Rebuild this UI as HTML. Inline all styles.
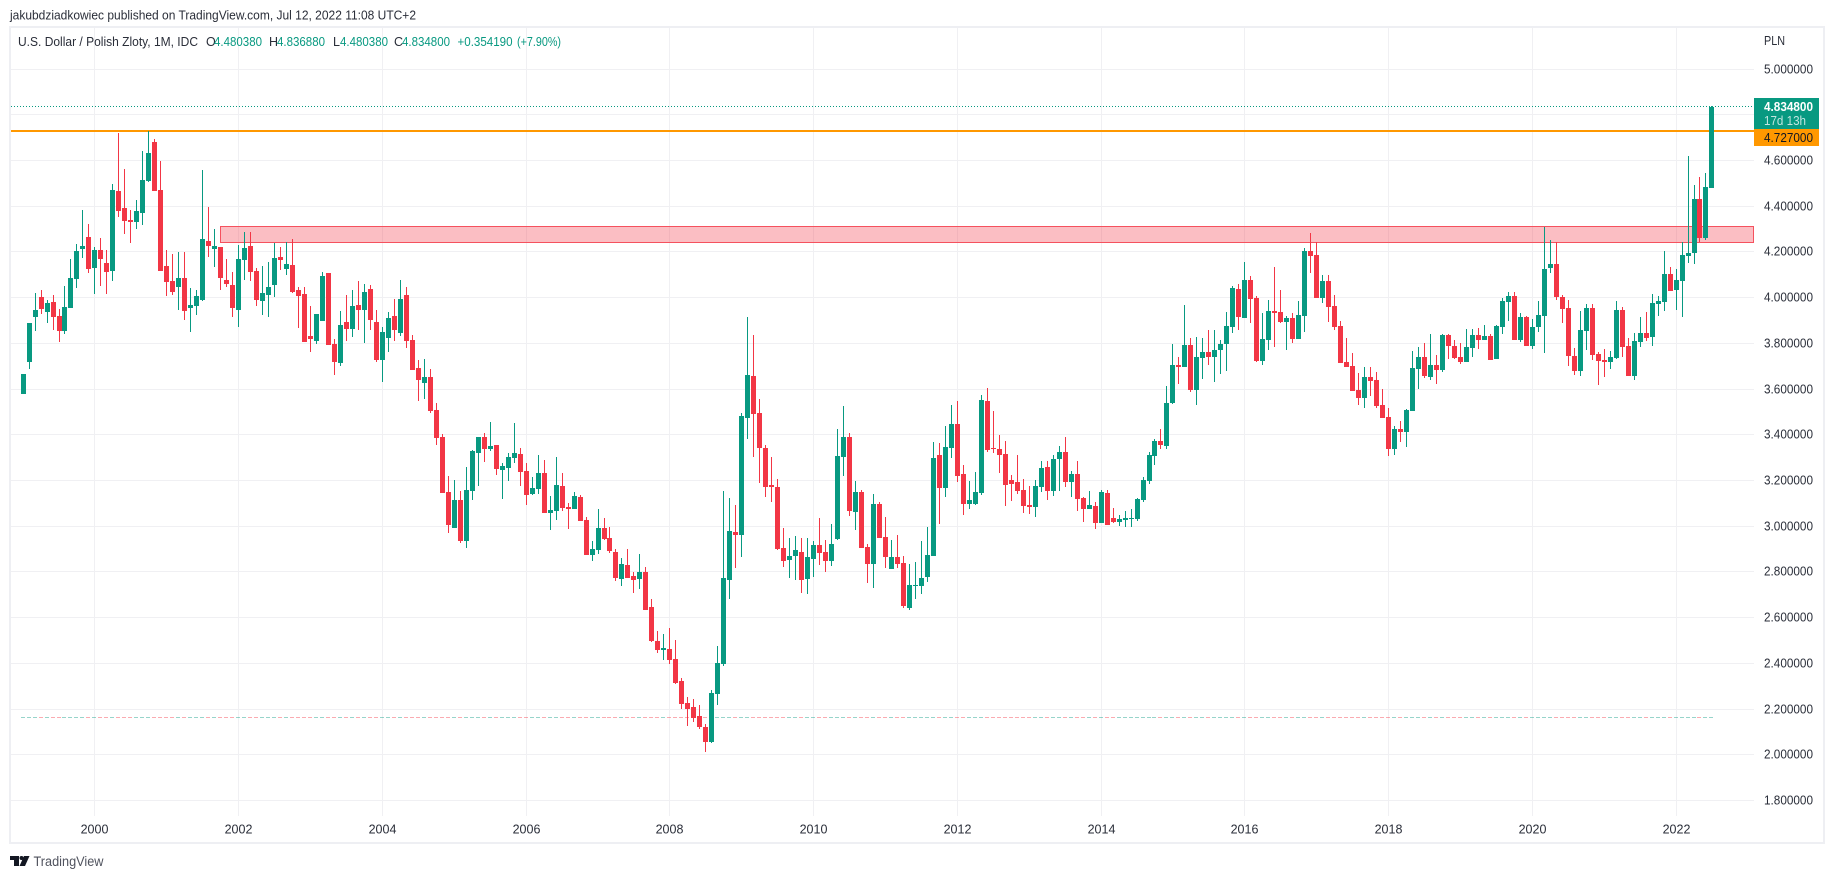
<!DOCTYPE html>
<html lang="en">
<head>
<meta charset="utf-8">
<title>U.S. Dollar / Polish Zloty, 1M</title>
<style>
html,body{margin:0;padding:0;background:#fff;width:1834px;height:879px;overflow:hidden}
svg{display:block;font-family:"Liberation Sans",sans-serif}
text{font-size:12.5px;fill:#2a2e39}
</style>
</head>
<body>
<svg id="chart" width="1834" height="879" viewBox="0 0 1834 879" xmlns="http://www.w3.org/2000/svg">
  <text x="10" y="19.5" textLength="406" lengthAdjust="spacingAndGlyphs">jakubdziadkowiec published on TradingView.com, Jul 12, 2022 11:08 UTC+2</text>
  <rect x="10" y="27" width="1814" height="816" fill="#fff" stroke="#eeeff3" stroke-width="2"/>
  <g id="grid" shape-rendering="crispEdges"></g>
  <g id="drawings" shape-rendering="crispEdges"></g>
  <g id="candles" shape-rendering="crispEdges"></g>
  <g>
    <text x="18" y="46" textLength="180" lengthAdjust="spacingAndGlyphs">U.S. Dollar / Polish Zloty, 1M, IDC</text>
    <text x="206" y="46">O</text>
    <text x="214" y="46" textLength="48" lengthAdjust="spacingAndGlyphs" style="fill:#089981">4.480380</text>
    <text x="269" y="46">H</text>
    <text x="277" y="46" textLength="48" lengthAdjust="spacingAndGlyphs" style="fill:#089981">4.836880</text>
    <text x="333" y="46">L</text>
    <text x="340" y="46" textLength="48" lengthAdjust="spacingAndGlyphs" style="fill:#089981">4.480380</text>
    <text x="394" y="46">C</text>
    <text x="402" y="46" textLength="48" lengthAdjust="spacingAndGlyphs" style="fill:#089981">4.834800</text>
    <text x="457.5" y="46" textLength="55" lengthAdjust="spacingAndGlyphs" style="fill:#089981">+0.354190</text>
    <text x="517" y="46" textLength="44" lengthAdjust="spacingAndGlyphs" style="fill:#089981">(+7.90%)</text>
  </g>
  <text x="1764" y="45" textLength="21" lengthAdjust="spacingAndGlyphs">PLN</text>
  <g id="axes"></g>
  <g shape-rendering="crispEdges">
    <rect x="1754" y="98" width="65" height="31" fill="#089981"/>
    <rect x="1754" y="129" width="65" height="17" fill="#ff9800"/>
  </g>
  <text x="1764" y="111" textLength="49" lengthAdjust="spacingAndGlyphs" style="fill:#fff;font-weight:bold">4.834800</text>
  <text x="1764" y="125" textLength="42" lengthAdjust="spacingAndGlyphs" style="fill:#fff;fill-opacity:.75">17d 13h</text>
  <text x="1764" y="142" textLength="49" lengthAdjust="spacingAndGlyphs" style="fill:#131722">4.727000</text>
  <g>
    <path fill="#131722" d="M10 856H19V866H14V860H10ZM24 856H29.5L25 866H19.5Z"/>
    <circle cx="21.5" cy="858" r="2" fill="#131722"/>
    <text x="33.5" y="866" textLength="70" lengthAdjust="spacingAndGlyphs" style="font-size:13.5px;fill:#50535e">TradingView</text>
  </g>
</svg>
<script>
const firstYear = 1999;
const yearTicks = [2000,2002,2004,2006,2008,2010,2012,2014,2016,2018,2020,2022];
const priceTicks = [5.0,4.8,4.6,4.4,4.2,4.0,3.8,3.6,3.4,3.2,3.0,2.8,2.6,2.4,2.2,2.0,1.8];
const open = [3.578,3.718,3.915,4.003,3.937,3.981,3.920,3.854,3.955,4.082,
4.213,4.266,4.130,4.209,4.152,4.117,4.467,4.393,4.340,4.331,
4.371,4.511,4.682,4.471,4.139,4.073,4.047,4.086,3.955,3.963,
3.990,4.248,4.213,4.222,4.077,4.055,3.946,4.165,4.226,4.117,
3.985,4.012,4.055,4.178,4.125,4.143,4.033,4.016,3.832,3.810,
3.898,4.108,3.797,3.714,3.893,3.863,3.968,3.946,4.038,3.893,
3.727,3.823,3.920,3.845,4.012,3.814,3.692,3.626,3.652,3.508,
3.390,3.149,2.991,3.114,2.934,3.153,3.320,3.390,3.337,3.355,
3.245,3.254,3.298,3.315,3.241,3.140,3.162,3.232,3.057,3.066,
3.175,3.083,3.074,3.127,3.026,2.873,2.895,2.991,2.947,2.886,
2.768,2.829,2.781,2.768,2.798,2.645,2.496,2.457,2.461,2.417,
2.321,2.225,2.207,2.168,2.119,2.054,2.264,2.395,2.763,2.974,
2.960,3.473,3.657,3.495,3.341,3.179,3.171,2.903,2.851,2.868,
2.886,2.768,2.855,2.917,2.886,2.846,2.943,3.302,3.390,3.061,
3.149,2.908,2.833,3.096,2.952,2.811,2.864,2.838,2.641,2.737,
2.737,2.776,2.868,3.311,3.166,3.341,3.447,3.228,3.096,3.096,
3.144,3.547,3.341,3.337,3.315,3.201,3.192,3.158,3.092,3.083,
3.171,3.258,3.153,3.293,3.324,3.192,3.228,3.122,3.074,3.087,
3.013,3.144,3.035,3.017,3.026,3.030,3.030,3.114,3.197,3.306,
3.372,3.350,3.539,3.705,3.696,3.793,3.595,3.736,3.762,3.740,
3.771,3.797,3.871,4.038,3.911,4.077,3.998,3.723,3.814,3.941,
3.937,3.893,3.911,3.819,3.920,4.204,4.187,3.998,4.073,3.963,
3.876,3.718,3.701,3.595,3.560,3.652,3.639,3.530,3.477,3.337,
3.425,3.412,3.503,3.688,3.740,3.652,3.705,3.683,3.836,3.788,
3.740,3.718,3.779,3.836,3.814,3.832,3.731,3.871,3.981,4.007,
3.814,3.915,3.788,3.871,3.920,4.130,4.147,4.003,3.955,3.744,
3.679,3.854,3.955,3.753,3.727,3.718,3.736,3.946,3.788,3.657,
3.806,3.845,3.828,3.972,3.981,4.104,4.033,4.073,4.182,4.195,
4.432,4.261,4.48038];
const high = [3.666,3.889,4.019,4.033,3.990,4.012,3.950,4.051,4.169,4.235,
4.384,4.323,4.222,4.261,4.209,4.498,4.721,4.563,4.384,4.428,
4.642,4.730,4.695,4.598,4.209,4.191,4.200,4.200,4.042,4.033,
4.559,4.397,4.301,4.222,4.169,4.112,4.231,4.288,4.288,4.130,
4.139,4.156,4.239,4.222,4.244,4.257,4.047,4.047,3.963,3.928,
4.112,4.108,3.819,3.941,4.012,4.033,4.073,4.060,4.055,3.946,
3.871,3.937,3.994,4.077,4.047,3.836,3.727,3.731,3.687,3.539,
3.403,3.219,3.201,3.153,3.258,3.333,3.390,3.407,3.455,3.355,
3.276,3.320,3.451,3.341,3.276,3.214,3.311,3.289,3.131,3.302,
3.232,3.101,3.149,3.136,3.039,2.934,3.074,3.035,2.995,2.899,
2.860,2.899,2.798,2.877,2.820,2.680,2.540,2.527,2.553,2.501,
2.334,2.251,2.242,2.216,2.133,2.282,2.474,3.153,3.122,3.092,
3.495,3.915,3.836,3.556,3.355,3.302,3.206,2.991,2.947,2.956,
2.947,2.947,2.934,3.035,2.939,3.009,3.425,3.525,3.407,3.197,
3.158,2.921,3.140,3.105,3.039,2.939,2.960,2.868,2.833,2.842,
2.934,2.995,3.368,3.363,3.438,3.530,3.547,3.267,3.197,3.236,
3.574,3.604,3.503,3.398,3.372,3.223,3.311,3.206,3.175,3.201,
3.285,3.285,3.311,3.350,3.390,3.241,3.285,3.127,3.153,3.105,
3.158,3.158,3.079,3.048,3.066,3.074,3.122,3.214,3.324,3.381,
3.425,3.613,3.797,3.740,3.968,3.823,3.828,3.823,3.858,3.858,
3.814,3.937,4.051,4.060,4.156,4.095,4.007,3.933,3.990,4.134,
4.033,3.920,3.933,3.985,4.217,4.283,4.244,4.099,4.099,4.012,
3.898,3.823,3.758,3.670,3.696,3.696,3.674,3.600,3.517,3.438,
3.460,3.512,3.766,3.784,3.801,3.841,3.749,3.841,3.841,3.814,
3.801,3.863,3.863,3.867,3.880,3.841,3.880,3.998,4.025,4.025,
3.933,3.920,3.907,3.985,4.309,4.253,4.244,4.012,3.990,3.779,
3.941,3.972,3.972,3.762,3.775,3.766,3.985,3.959,3.823,3.845,
3.915,3.937,4.016,4.007,4.204,4.134,4.125,4.244,4.620,4.493,
4.529,4.546,4.83688];
const low = [3.578,3.687,3.854,3.928,3.889,3.858,3.806,3.841,3.955,4.042,
4.174,4.108,4.016,4.051,4.016,4.073,4.353,4.279,4.239,4.301,
4.318,4.507,4.467,4.117,4.007,4.012,3.946,3.902,3.850,3.924,
3.985,4.178,4.134,4.033,4.047,3.915,3.871,4.077,4.073,3.963,
3.924,3.915,4.003,4.121,4.099,4.020,3.867,3.806,3.762,3.797,
3.898,3.793,3.661,3.701,3.810,3.828,3.858,3.801,3.858,3.718,
3.631,3.762,3.810,3.832,3.779,3.683,3.547,3.556,3.495,3.354,
3.144,2.969,2.991,2.925,2.903,3.114,3.175,3.280,3.328,3.223,
3.118,3.197,3.276,3.175,3.092,3.136,3.140,3.057,2.982,3.026,
3.066,2.987,3.074,3.022,2.873,2.846,2.877,2.939,2.882,2.759,
2.737,2.772,2.706,2.724,2.632,2.492,2.444,2.413,2.395,2.308,
2.198,2.124,2.141,2.111,2.010,2.049,2.216,2.387,2.680,2.816,
2.864,3.381,3.302,3.188,3.127,3.105,2.895,2.820,2.772,2.763,
2.706,2.702,2.776,2.829,2.798,2.825,2.939,3.219,3.044,2.982,
2.903,2.750,2.728,2.947,2.816,2.811,2.816,2.641,2.632,2.680,
2.702,2.755,2.868,3.009,3.127,3.298,3.193,3.048,3.074,3.092,
3.136,3.324,3.320,3.232,3.087,3.109,3.140,3.057,3.052,3.039,
3.149,3.114,3.131,3.153,3.171,3.127,3.066,3.017,3.074,2.987,
3.013,3.004,3.013,3.000,2.995,2.995,3.022,3.105,3.184,3.267,
3.337,3.337,3.534,3.622,3.696,3.587,3.530,3.644,3.705,3.631,
3.666,3.679,3.845,3.858,3.911,3.889,3.718,3.705,3.771,3.784,
3.889,3.771,3.801,3.819,3.850,4.108,3.998,3.976,3.893,3.858,
3.714,3.696,3.591,3.530,3.517,3.569,3.517,3.473,3.306,3.311,
3.368,3.346,3.503,3.600,3.648,3.639,3.622,3.674,3.731,3.731,
3.709,3.718,3.740,3.775,3.814,3.727,3.731,3.841,3.898,3.814,
3.806,3.788,3.775,3.850,3.758,4.108,3.990,3.889,3.701,3.661,
3.657,3.771,3.727,3.617,3.652,3.687,3.731,3.740,3.657,3.639,
3.784,3.810,3.788,3.920,3.941,4.029,3.946,3.915,4.152,4.147,
4.244,4.253,4.48038];
const close = [3.666,3.889,3.946,3.950,3.977,3.915,3.854,3.959,4.086,4.204,
4.226,4.125,4.209,4.169,4.112,4.471,4.379,4.336,4.331,4.379,
4.515,4.634,4.467,4.117,4.069,4.025,4.086,3.941,3.968,4.007,
4.257,4.226,4.226,4.086,4.060,3.955,4.169,4.217,4.112,3.990,
4.020,4.047,4.174,4.165,4.147,4.025,4.007,3.806,3.819,3.928,
4.095,3.793,3.718,3.880,3.863,3.963,3.946,4.025,3.902,3.727,
3.850,3.911,3.858,3.994,3.810,3.683,3.639,3.652,3.503,3.385,
3.144,3.004,3.114,2.934,3.158,3.328,3.390,3.337,3.350,3.249,
3.263,3.302,3.320,3.236,3.136,3.166,3.232,3.057,3.070,3.179,
3.079,3.074,3.131,3.022,2.873,2.899,2.991,2.943,2.890,2.772,
2.833,2.772,2.763,2.798,2.632,2.496,2.457,2.465,2.413,2.312,
2.220,2.198,2.159,2.119,2.054,2.268,2.400,2.772,2.978,2.960,
3.482,3.661,3.490,3.341,3.171,3.171,2.899,2.846,2.868,2.895,
2.763,2.864,2.917,2.882,2.846,2.921,3.306,3.390,3.066,3.149,
2.903,2.833,3.096,2.947,2.864,2.864,2.833,2.649,2.741,2.741,
2.772,2.873,3.298,3.166,3.346,3.447,3.219,3.096,3.114,3.149,
3.552,3.333,3.337,3.311,3.179,3.184,3.153,3.087,3.083,3.175,
3.254,3.153,3.293,3.324,3.192,3.228,3.118,3.074,3.092,3.013,
3.149,3.004,3.017,3.030,3.035,3.035,3.118,3.201,3.311,3.372,
3.355,3.539,3.705,3.696,3.793,3.595,3.740,3.762,3.740,3.771,
3.797,3.876,4.042,3.915,4.077,3.994,3.723,3.819,3.941,3.933,
3.893,3.911,3.819,3.924,4.204,4.182,3.998,4.073,3.959,3.871,
3.714,3.696,3.591,3.560,3.652,3.635,3.525,3.473,3.337,3.425,
3.411,3.508,3.692,3.740,3.657,3.705,3.683,3.836,3.788,3.736,
3.718,3.784,3.836,3.814,3.832,3.727,3.876,3.985,4.007,3.814,
3.915,3.788,3.871,3.924,4.125,4.147,4.003,3.950,3.744,3.679,
3.858,3.955,3.749,3.723,3.718,3.740,3.946,3.784,3.657,3.810,
3.845,3.823,3.977,3.985,4.104,4.029,4.077,4.187,4.195,4.432,
4.261,4.485,4.8348];
const resistanceLevel = 4.727;
const lastPrice = 4.8348;
const baselinePrice = 2.164;
const zoneTopPrice = 4.31;
const zoneBottomPrice = 4.24;
const zoneStartBar = 33;

const NS = 'http://www.w3.org/2000/svg';
const GREEN = '#089981', RED = '#f23645', ORANGE = '#ff9800', GRID = '#f0f0f3';
const PLOT_LEFT = 11, PLOT_RIGHT = 1754, PLOT_BOTTOM = 816;
const STEP = 5.989, FIRST_X = 23.07;
const xScale = i => Math.floor(FIRST_X + STEP * i);
const yScale = p => 69 + (5 - p) * 228.33;
const gridY = p => Math.floor(69.2 + (5 - p) * 228.5);
const yearToBar = y => (y - firstYear) * 12;

function mk(parent, tag, geometry) {
  const el = document.createElementNS(NS, tag);
  for (const k in geometry) el.setAttribute(k, geometry[k]);
  parent.appendChild(el);
  return el;
}
const gridG = document.getElementById('grid');
const drawG = document.getElementById('drawings');
const candleG = document.getElementById('candles');
const axesG = document.getElementById('axes');

priceTicks.forEach(p => {
  const y = gridY(p);
  const line = mk(gridG, 'rect', {x: PLOT_LEFT, y: y, width: PLOT_RIGHT - PLOT_LEFT, height: 1, fill: GRID});
  
  
  const label = mk(axesG, 'text', {x: 1764, y: y + 4.5, textLength: 49, lengthAdjust: 'spacingAndGlyphs'});
  
  
  label.textContent = p.toFixed(6);
});
yearTicks.forEach(year => {
  const x = xScale(yearToBar(year));
  const line = mk(gridG, 'rect', {x: x, y: 28, width: 1, height: PLOT_BOTTOM - 28, fill: GRID});
  
  
  const label = mk(axesG, 'text', {x: x + 0.5, y: 833.5, 'text-anchor': 'middle'});
  
  
  label.textContent = year;
});

const zoneTop = Math.floor(yScale(zoneTopPrice));
const zoneBottom = Math.floor(yScale(zoneBottomPrice));
const zoneLeft = xScale(zoneStartBar);
const zone = mk(drawG, 'rect', {x: zoneLeft + 0.5, y: zoneTop + 0.5, width: PLOT_RIGHT - zoneLeft - 1, height: zoneBottom - zoneTop, fill: RED, 'fill-opacity': 0.32, stroke: '#f5515e', 'stroke-width': 1});



const lastLine = mk(drawG, 'line', {x1: PLOT_LEFT, x2: PLOT_RIGHT, y1: Math.floor(yScale(lastPrice)) + 0.5, y2: Math.floor(yScale(lastPrice)) + 0.5, stroke: GREEN, 'stroke-width': 1, 'stroke-dasharray': '1 2'});



const level = mk(drawG, 'rect', {x: PLOT_LEFT, y: Math.round(yScale(resistanceLevel)) - 1, width: PLOT_RIGHT - PLOT_LEFT, height: 2, fill: ORANGE});



const baseY = Math.round(yScale(baselinePrice));
open.forEach((o, i) => {
  const up = close[i] >= o;
  const cx = xScale(i);
  const dash = mk(drawG, 'rect', {x: cx - 2, y: baseY, width: 4, height: 1, fill: up ? GREEN : RED, 'fill-opacity': 0.42});
  
  
});

open.forEach((o, i) => {
  const c = close[i];
  const color = c >= o ? GREEN : RED;
  const cx = xScale(i);
  const yHigh = Math.round(yScale(high[i]));
  const yLow = Math.round(yScale(low[i]));
  const yTop = Math.round(yScale(Math.max(o, c)));
  const yBot = Math.round(yScale(Math.min(o, c)));
  const wick = mk(candleG, 'rect', {x: cx, y: yHigh, width: 1, height: Math.max(1, yLow - yHigh), fill: color});
  
  
  const body = mk(candleG, 'rect', {x: cx - 2, y: yTop, width: 5, height: Math.max(1, yBot - yTop), fill: color});
  
  
});
</script>
</body>
</html>
